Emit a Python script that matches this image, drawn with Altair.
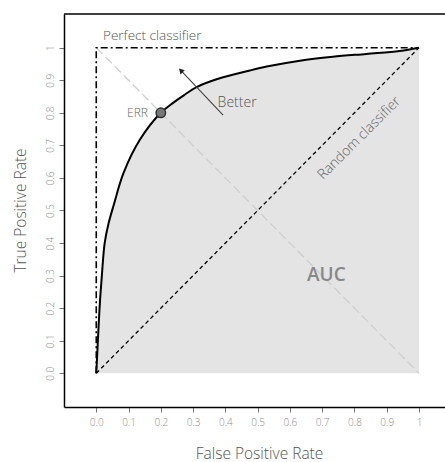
import altair as alt
import pandas as pd

# ROC curve points (false positive rate, true positive rate)
roc_fpr = [0.0, 0.004, 0.008, 0.012, 0.018, 0.026, 0.038, 0.055, 0.084, 0.135, 0.200,
           0.240, 0.270, 0.311, 0.373, 0.476, 0.528, 0.631, 0.733, 0.837, 0.940, 1.0]
roc_tpr = [0.0, 0.080, 0.160, 0.230, 0.310, 0.400, 0.460, 0.520, 0.614, 0.717, 0.800,
           0.832, 0.853, 0.879, 0.903, 0.930, 0.942, 0.960, 0.972, 0.981, 0.990, 1.0]

# Reference lines
perfect_fpr = [0.0, 0.0, 1.0]
perfect_tpr = [0.0, 1.0, 1.0]
random_fpr = [0.0, 1.0]
random_tpr = [0.0, 1.0]
err_line_fpr = [0.0, 1.0]
err_line_tpr = [1.0, 0.0]

# Equal error rate point
err_fpr = [0.2]
err_tpr = [0.8]

# "Better" arrow (tail -> head)
arrow_fpr = [0.393, 0.262]
arrow_tpr = [0.793, 0.930]

tick_values = [0.0, 0.1, 0.2, 0.3, 0.4, 0.5, 0.6, 0.7, 0.8, 0.9, 1.0]

FONT = "Open Sans"

xs = alt.Scale(domain=[-0.1, 1.0806], nice=False, zero=False)
ys = alt.Scale(domain=[-0.1035, 1.1035], nice=False, zero=False)

label_expr = "datum.value == 1 ? '1' : format(datum.value, '.1f')"

x_axis = alt.Axis(
    values=tick_values, labelExpr=label_expr, title="False Positive Rate",
    grid=False, domainColor="black", domainWidth=1.5, tickColor="#777",
    tickSize=5, labelColor="#8f8f8f", labelFontSize=10, labelPadding=5,
    labelFont=FONT, labelFontWeight=300, titleFont=FONT, titleFontSize=15.5,
    titleFontWeight=300, titleColor="#555", titleX=195, titleY=46,
    titleBaseline="middle",
)
y_axis = alt.Axis(
    values=tick_values, labelExpr=label_expr, title="True Positive Rate",
    grid=False, domainColor="black", domainWidth=1.5, tickColor="#777",
    tickSize=5, labelColor="#8f8f8f", labelFontSize=10, labelPadding=4,
    labelAngle=270, labelAlign="center", labelBaseline="bottom",
    labelFont=FONT, labelFontWeight=300, titleFont=FONT, titleFontSize=15.5,
    titleFontWeight=300, titleColor="#555", titleX=-44, titleY=196, titleAngle=270,
    titleBaseline="middle", titleAlign="center",
)

roc_df = pd.DataFrame({"fpr": roc_fpr, "tpr": roc_tpr, "o": range(len(roc_fpr))})


def enc():
    return dict(
        x=alt.X("fpr:Q", scale=xs, axis=x_axis),
        y=alt.Y("tpr:Q", scale=ys, axis=y_axis),
    )


area = alt.Chart(roc_df).mark_area(
    color="#e4e4e4", interpolate="catmull-rom"
).encode(**enc())

perfect = alt.Chart(pd.DataFrame({"fpr": perfect_fpr, "tpr": perfect_tpr, "o": [0, 1, 2]})).mark_line(
    color="black", strokeWidth=1.6, strokeDash=[7, 3, 2, 3]
).encode(**enc(), order="o:Q")

err_line = alt.Chart(pd.DataFrame({"fpr": err_line_fpr, "tpr": err_line_tpr})).mark_line(
    color="#cfcfcf", strokeWidth=1.3, strokeDash=[9, 4]
).encode(**enc())

random_line = alt.Chart(pd.DataFrame({"fpr": random_fpr, "tpr": random_tpr})).mark_line(
    color="black", strokeWidth=1.3, strokeDash=[4, 3]
).encode(**enc())

curve = alt.Chart(roc_df).mark_line(
    color="black", strokeWidth=2, interpolate="catmull-rom"
).encode(**enc(), order="o:Q")

arrow_df = pd.DataFrame({"fpr": arrow_fpr, "tpr": arrow_tpr})
arrow_line = alt.Chart(arrow_df).mark_line(color="#444", strokeWidth=1.1).encode(**enc())
arrow_head = alt.Chart(arrow_df.iloc[[1]]).mark_point(
    shape="triangle-up", filled=True, color="#222", size=35, angle=317, opacity=1
).encode(**enc())

err_pt = alt.Chart(pd.DataFrame({"fpr": err_fpr, "tpr": err_tpr})).mark_point(
    shape="circle", filled=True, fill="#777", stroke="#333", strokeWidth=1.5,
    size=90, opacity=1
).encode(**enc())


def label(text, fx, fy, **kw):
    df = pd.DataFrame({"fpr": [fx], "tpr": [fy], "t": [text]})
    return alt.Chart(df).mark_text(font=FONT, **kw).encode(**enc(), text="t:N")


txt_perfect = label("Perfect classifier", 0.021, 1.037, align="left", baseline="middle",
                    fontSize=13.5, fontWeight=300, color="#555")
txt_err = label("ERR", 0.16, 0.8, align="right", baseline="middle", fontSize=12,
                fontWeight=300, color="#666")
txt_better = label("Better", 0.376, 0.83, align="left", baseline="middle", fontSize=14,
                   fontWeight=300, color="#555")
txt_random = label("Random classifier", 0.815, 0.722, align="center", baseline="middle",
                   fontSize=14, fontWeight=300, color="#666", angle=315)
txt_auc = label("AUC", 0.713, 0.302, align="center", baseline="middle", fontSize=19,
                fontWeight=600, color="#888")

top_border = alt.Chart(pd.DataFrame({"v": [0]})).mark_rule(
    color="black", strokeWidth=1.5
).encode(y=alt.value(0), x=alt.value(0), x2=alt.value(382))

chart = alt.layer(
    area, err_line, perfect, random_line, curve, arrow_line, arrow_head, err_pt,
    txt_perfect, txt_err, txt_better, txt_random, txt_auc, top_border,
).properties(
    width=381, height=393,
    autosize=alt.AutoSizeParams(type="none"),
    padding={"left": 64, "top": 14, "right": 0, "bottom": 55},
    background="white",
).configure_view(stroke=None)

chart.save("out.html", embed_options={"renderer": "svg", "actions": False})
